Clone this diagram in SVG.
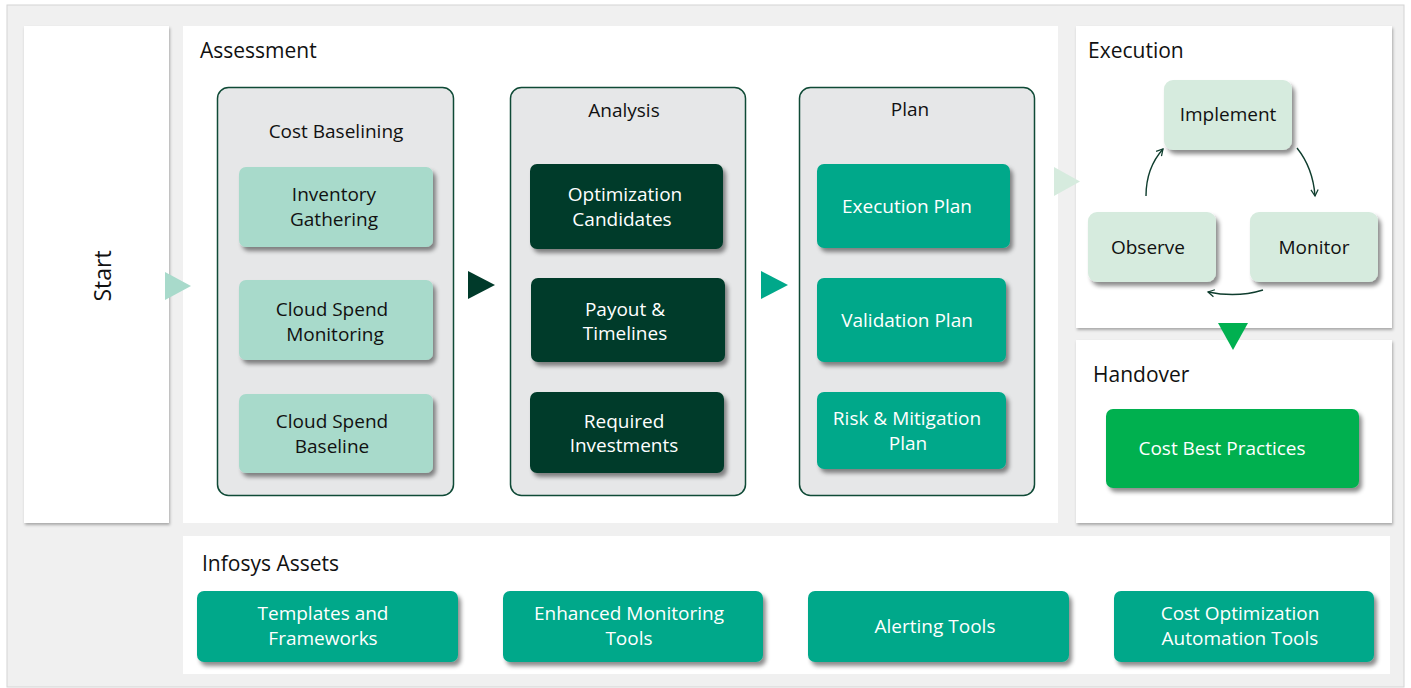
<svg xmlns="http://www.w3.org/2000/svg" width="1411" height="688" viewBox="0 0 1411 688">
<defs>
<filter id="sh" x="-10%" y="-10%" width="125%" height="135%"><feDropShadow dx="3" dy="4" stdDeviation="2" flood-color="#000" flood-opacity="0.45"/></filter>
<filter id="psh" x="-5%" y="-5%" width="110%" height="110%"><feDropShadow dx="1" dy="2" stdDeviation="1.5" flood-color="#000" flood-opacity="0.3"/></filter>
<marker id="ah" viewBox="0 0 10 10" refX="8" refY="5" markerWidth="9" markerHeight="9" orient="auto" markerUnits="userSpaceOnUse"><path d="M1,1 L8,5 L1,9" fill="none" stroke="#0f3d2e" stroke-width="1.4"/></marker>
<style>
text{font-family:"Open Sans","Liberation Sans",sans-serif;}
.t{font-size:21px;fill:#111;}
.lbl{font-size:19px;text-anchor:middle;}
.dk{fill:#111;}
.wt{fill:#fff;}
.panel{fill:#fff;}
.cont{fill:#e6e7e8;stroke:#0f4a36;stroke-width:1.5;}
.lt{fill:#a8dacb;}
.dg{fill:#003a2a;}
.tl{fill:#00a88a;}
.pg{fill:#d6ebde;}
.gr{fill:#00b050;}
.cyc{fill:none;stroke:#0f3d2e;stroke-width:1.4;}
</style>
</defs>
<rect x="7" y="5" width="1397" height="682" fill="#f0f0f0" stroke="#d4d4d4" stroke-width="1"/>

<g id="start">
<rect class="panel" x="24" y="26" width="145" height="497" filter="url(#psh)"/>
<text class="t" text-anchor="middle" transform="translate(111,276) rotate(-90)" style="font-size:23px">Start</text>
</g>

<g id="assessment">
<rect class="panel" x="183" y="26" width="875" height="497"/>
<text class="t" x="200" y="58">Assessment</text>
</g>

<g id="cost-baselining">
<rect class="cont" x="217.5" y="87.5" width="236" height="408" rx="11"/>
<text class="lbl dk" x="336" y="138">Cost Baselining</text>
<rect class="lt" x="239" y="167" width="194" height="80" rx="7" filter="url(#sh)"/>
<text class="lbl dk" x="334" y="201">Inventory</text>
<text class="lbl dk" x="334" y="226">Gathering</text>
<rect class="lt" x="239" y="280" width="194" height="80" rx="7" filter="url(#sh)"/>
<text class="lbl dk" x="332" y="316">Cloud Spend</text>
<text class="lbl dk" x="335" y="341">Monitoring</text>
<rect class="lt" x="239" y="394" width="194" height="79" rx="7" filter="url(#sh)"/>
<text class="lbl dk" x="332" y="428">Cloud Spend</text>
<text class="lbl dk" x="332" y="453">Baseline</text>
</g>

<g id="analysis">
<rect class="cont" x="510.5" y="87.5" width="235" height="408" rx="11"/>
<text class="lbl dk" x="624" y="117">Analysis</text>
<rect class="dg" x="530" y="164" width="193" height="85" rx="7" filter="url(#sh)"/>
<text class="lbl wt" x="625" y="201">Optimization</text>
<text class="lbl wt" x="622" y="226">Candidates</text>
<rect class="dg" x="531" y="278" width="194" height="84" rx="7" filter="url(#sh)"/>
<text class="lbl wt" x="625" y="316">Payout &amp;</text>
<text class="lbl wt" x="625" y="340">Timelines</text>
<rect class="dg" x="530" y="392" width="194" height="81" rx="7" filter="url(#sh)"/>
<text class="lbl wt" x="624" y="428">Required</text>
<text class="lbl wt" x="624" y="452">Investments</text>
</g>

<g id="plan">
<rect class="cont" x="799.5" y="87.5" width="235" height="408" rx="11"/>
<text class="lbl dk" x="910" y="116">Plan</text>
<rect class="tl" x="817" y="164" width="193" height="84" rx="7" filter="url(#sh)"/>
<text class="lbl wt" x="907" y="213">Execution Plan</text>
<rect class="tl" x="817" y="278" width="189" height="84" rx="7" filter="url(#sh)"/>
<text class="lbl wt" x="907" y="327">Validation Plan</text>
<rect class="tl" x="817" y="392" width="189" height="77" rx="7" filter="url(#sh)"/>
<text class="lbl wt" x="907" y="425">Risk &amp; Mitigation</text>
<text class="lbl wt" x="908" y="450">Plan</text>
</g>

<g id="execution">
<rect class="panel" x="1076" y="26" width="316" height="302" filter="url(#psh)"/>
<text class="t" x="1088" y="58">Execution</text>
<rect class="pg" x="1164" y="80" width="128" height="70" rx="9" filter="url(#sh)"/>
<text class="lbl dk" x="1228" y="121">Implement</text>
<rect class="pg" x="1088" y="212" width="128" height="70" rx="9" filter="url(#sh)"/>
<text class="lbl dk" x="1148" y="254">Observe</text>
<rect class="pg" x="1250" y="212" width="128" height="70" rx="9" filter="url(#sh)"/>
<text class="lbl dk" x="1314" y="254">Monitor</text>
</g>

<g id="handover">
<rect class="panel" x="1076" y="340" width="316" height="183" filter="url(#psh)"/>
<text class="t" x="1093" y="382">Handover</text>
<rect class="gr" x="1106" y="409" width="253" height="79" rx="7" filter="url(#sh)"/>
<text class="lbl wt" x="1222" y="455">Cost Best Practices</text>
</g>

<g id="infosys-assets">
<rect class="panel" x="183" y="536" width="1207" height="138"/>
<text class="t" x="202" y="571">Infosys Assets</text>
<rect class="tl" x="197" y="591" width="261" height="71" rx="7" filter="url(#sh)"/>
<text class="lbl wt" x="323" y="620">Templates and</text>
<text class="lbl wt" x="323" y="645">Frameworks</text>
<rect class="tl" x="503" y="591" width="260" height="71" rx="7" filter="url(#sh)"/>
<text class="lbl wt" x="629" y="620">Enhanced Monitoring</text>
<text class="lbl wt" x="629" y="645">Tools</text>
<rect class="tl" x="808" y="591" width="261" height="71" rx="7" filter="url(#sh)"/>
<text class="lbl wt" x="935" y="633">Alerting Tools</text>
<rect class="tl" x="1114" y="591" width="260" height="71" rx="7" filter="url(#sh)"/>
<text class="lbl wt" x="1240" y="620">Cost Optimization</text>
<text class="lbl wt" x="1240" y="645">Automation Tools</text>
</g>

<g id="connectors">
<polygon points="165,272 191,286 165,300" fill="#a8dacb"/>
<polygon points="468,271 495,285 468,299" fill="#003a2a"/>
<polygon points="761,271 788,285 761,299" fill="#00a88a"/>
<polygon points="1054,167 1080,181.5 1054,196" fill="#d6ebde"/>
<polygon points="1218,323 1248,323 1233,350" fill="#00b050"/>
<path class="cyc" d="M1146,196 Q1146,168 1163,149" marker-end="url(#ah)"/>
<path class="cyc" d="M1297,148 Q1313,168 1315,196" marker-end="url(#ah)"/>
<path class="cyc" d="M1263,290 Q1237,298 1208,292" marker-end="url(#ah)"/>
</g>
</svg>
